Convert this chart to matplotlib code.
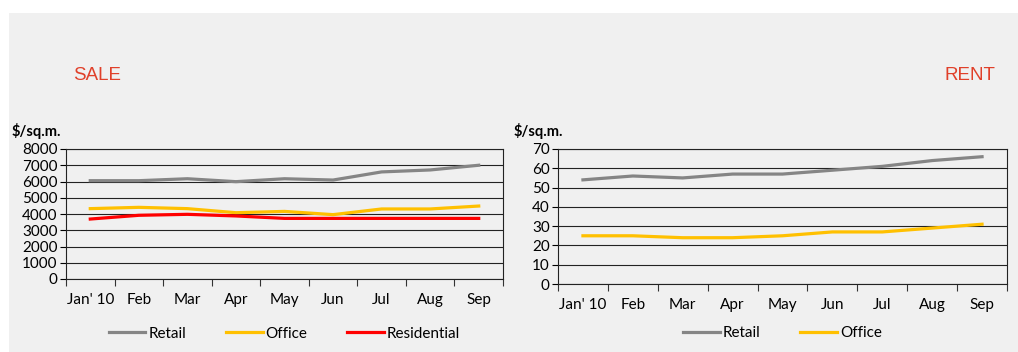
import matplotlib.pyplot as plt
from matplotlib.patches import Rectangle
import numpy as np

months = ["Jan' 10", "Feb", "Mar", "Apr", "May", "Jun", "Jul", "Aug", "Sep"]

sale_retail = [6050, 6050, 6170, 5990, 6170, 6090, 6590, 6710, 7000]
sale_office = [4330, 4410, 4330, 4080, 4160, 3960, 4310, 4310, 4490]
sale_resid = [3690, 3920, 3980, 3880, 3730, 3730, 3730, 3730, 3730]

rent_retail = [54, 56, 55, 57, 57, 59, 61, 64, 66]
rent_office = [25, 25, 24, 24, 25, 27, 27, 29, 31]

plt.rcParams['font.family'] = ['Lato', 'DejaVu Sans']
plt.rcParams['font.size'] = 10

W, H = 1018, 352
fig = plt.figure(figsize=(W / 100, H / 100), dpi=100)
fig.patch.set_facecolor("white")
bg = "#f0f0f0"
fig.patches.append(Rectangle((9 / W, 0), 1, 1 - 13 / H, transform=fig.transFigure,
                             facecolor=bg, edgecolor="none", zorder=-10))


def box(l, t, r, b):
    return [l / W, 1 - b / H, (r - l) / W, (b - t) / H]


def panel(rect, series, colors, labels, ymax, step, leg_y, unit_x):
    ax = fig.add_axes(rect)
    ax.set_facecolor(bg)
    x = np.arange(len(months))
    for s, c, lb in zip(series, colors, labels):
        ax.plot(x, s, color=c, linewidth=2.3, label=lb, zorder=3)
    ax.set_xlim(-0.5, len(months) - 0.5)
    ax.set_ylim(0, ymax)
    ax.set_yticks(np.arange(0, ymax + 1, step))
    ax.set_xticks(x)
    ax.set_xticklabels(months)
    ax.set_xticks(np.arange(-0.5, len(months)), minor=True)
    ax.tick_params(axis="x", which="major", length=0, pad=10, labelsize=11)
    ax.tick_params(axis="x", which="minor", length=5, width=0.8, color="#333333")
    ax.tick_params(axis="y", length=4, width=0.8, labelsize=11, pad=2)
    ax.grid(True, axis="y", color="#222222", linewidth=0.8, zorder=1)
    for sp in ax.spines.values():
        sp.set_color("#222222")
        sp.set_linewidth(0.8)
    ax.set_axisbelow(True)
    fig.text(unit_x / W, 1 - 131 / H, "$/sq.m.", fontsize=10.5, fontweight="bold",
             va="center", ha="left")
    ax.legend(loc="center", bbox_to_anchor=(0.5, leg_y), ncol=len(series), frameon=False,
              handlelength=2.4, handletextpad=0.2, columnspacing=2.6, fontsize=11)
    return ax


panel(box(66, 149, 503, 279), [sale_retail, sale_office, sale_resid],
      ["#858585", "#ffc000", "#ff0000"], ["Retail", "Office", "Residential"],
      8000, 1000, -0.42, 12)
panel(box(558, 149, 1007, 284), [rent_retail, rent_office],
      ["#858585", "#ffc000"], ["Retail", "Office"],
      70, 10, -0.365, 514)

fig.text(73 / W, 1 - 76 / H, "SALE", color="#e0402a", fontsize=13.5, va="center",
         family=['Liberation Sans', 'DejaVu Sans'])
fig.text(995 / W, 1 - 76 / H, "RENT", color="#e0402a", fontsize=13.5, va="center", ha="right",
         family=['Liberation Sans', 'DejaVu Sans'])

fig.savefig("out.png", dpi=100, facecolor="white")
